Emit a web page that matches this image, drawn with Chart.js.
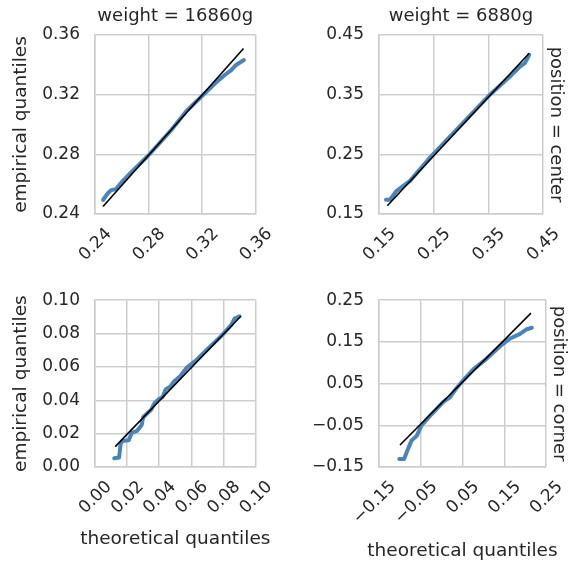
<!DOCTYPE html>
<html>
<head>
<meta charset="utf-8">
<script src="https://cdn.jsdelivr.net/npm/chart.js@4.4.1/dist/chart.umd.min.js"></script>
<style>
html,body{margin:0;padding:0;background:#fff;}
body{width:575px;height:561px;position:relative;overflow:hidden;}
canvas{position:absolute;}
</style>
</head>
<body>
<canvas id="p1" style="left:0;top:0" width="280" height="275"></canvas>
<canvas id="p2" style="left:280px;top:0" width="295" height="275"></canvas>
<canvas id="p3" style="left:0;top:275px" width="280" height="286"></canvas>
<canvas id="p4" style="left:280px;top:275px" width="295" height="286"></canvas>
<script>
// ── DATA ──
// weight = 16860g, position = center
const tlTheo = [0.246, 0.2496, 0.252, 0.2556, 0.2603, 0.2675, 0.2795, 0.2963, 0.3082, 0.3202, 0.3298, 0.337, 0.3418, 0.3454, 0.3513];
const tlEmp  = [0.2494, 0.2539, 0.256, 0.2566, 0.2617, 0.2684, 0.2789, 0.2955, 0.3089, 0.3193, 0.3276, 0.3332, 0.3365, 0.3399, 0.3432];
const tlRefX = [0.246, 0.351];
const tlRefY = [0.245, 0.351];
const tlTicks = [0.24, 0.28, 0.32, 0.36];

// weight = 6880g, position = center
const trTheo = [0.1628, 0.1701, 0.1823, 0.2067, 0.2432, 0.2981, 0.3529, 0.3895, 0.4078, 0.4169, 0.4248];
const trEmp  = [0.1738, 0.1738, 0.1889, 0.2055, 0.2445, 0.2972, 0.35, 0.3805, 0.3972, 0.4028, 0.4167];
const trRefX = [0.1652, 0.4248];
const trRefY = [0.1638, 0.4195];
const trTicks = [0.15, 0.25, 0.35, 0.45];

// weight = 16860g, position = corner
const blTheo = [0.012, 0.015, 0.016, 0.017, 0.021, 0.023, 0.026, 0.029, 0.030, 0.033, 0.035, 0.037, 0.040, 0.042, 0.044, 0.047, 0.049, 0.053, 0.057, 0.063, 0.071, 0.079, 0.085, 0.087, 0.090];
const blEmp  = [0.0052, 0.0057, 0.014, 0.0156, 0.016, 0.0206, 0.0215, 0.025, 0.0298, 0.0326, 0.0344, 0.0382, 0.0409, 0.0418, 0.0465, 0.0483, 0.0511, 0.0544, 0.0594, 0.064, 0.0715, 0.0789, 0.0854, 0.089, 0.0904];
const blRefX = [0.0126, 0.0908];
const blRefY = [0.0122, 0.0904];
const blTicks = [0.00, 0.02, 0.04, 0.06, 0.08, 0.10];

// weight = 6880g, position = corner
const brTheo = [-0.1014, -0.090, -0.0798, -0.0717, -0.0597, -0.0477, -0.0278, 0.004, 0.020, 0.036, 0.052, 0.076, 0.108, 0.140, 0.164, 0.188, 0.204, 0.216];
const brEmp  = [-0.1306, -0.1306, -0.1048, -0.0862, -0.0752, -0.0494, -0.0272, 0.0062, 0.0173, 0.0396, 0.0582, 0.084, 0.11, 0.1396, 0.1582, 0.1693, 0.1804, 0.184];
const brRefX = [-0.0997, 0.214];
const brRefY = [-0.0973, 0.2189];
const brTicks = [-0.15, -0.05, 0.05, 0.15, 0.25];

// ── STYLE ──
const BLUE = '#4a85ba';
const TEXT = '#262626';
const GRID = '#cdcdcd';
const FONT = '"DejaVu Sans", sans-serif';

const pts = (xs, ys) => xs.map((x, i) => ({x, y: ys[i]}));
const fmt = v => v.toFixed(2).replace('-', '\u2212');

// facet + axis titles, drawn without Chart.js' maxWidth squeeze
const facetPlugin = {
  id: 'facet',
  afterDraw(chart, args, opts) {
    const {ctx, chartArea: a} = chart;
    const cx = (a.left + a.right) / 2, cy = (a.top + a.bottom) / 2;
    ctx.save();
    ctx.fillStyle = TEXT;
    ctx.textAlign = 'center';
    ctx.textBaseline = 'middle';
    ctx.font = '18px ' + FONT;
    if (opts.top) ctx.fillText(opts.top, cx, a.top - 19);
    if (opts.right) {
      ctx.save();
      ctx.translate(a.right + 13, cy);
      ctx.rotate(Math.PI / 2);
      ctx.fillText(opts.right, 0, 0);
      ctx.restore();
    }
    ctx.font = '18.5px ' + FONT;
    if (opts.xTitle) ctx.fillText(opts.xTitle, cx, chart.height - opts.xTitleOff);
    if (opts.yTitle) {
      ctx.translate(21, cy);
      ctx.rotate(-Math.PI / 2);
      ctx.fillText(opts.yTitle, 0, 0);
    }
    ctx.restore();
  }
};

function qq(id, o) {
  const axisBase = ticks => ({
    type: 'linear',
    min: ticks[0], max: ticks[ticks.length - 1],
    afterBuildTicks: s => { s.ticks = ticks.map(v => ({value: v})); },
    grid: {color: GRID, lineWidth: 1.5, drawTicks: false},
    border: {color: GRID, width: 1.5},
  });
  return new Chart(document.getElementById(id), {
    type: 'scatter',
    data: {datasets: [
      {data: pts(o.refX, o.refY), showLine: true, borderColor: '#000', borderWidth: 1.6, pointRadius: 0},
      {data: pts(o.theo, o.emp), showLine: true, borderColor: BLUE, borderWidth: 4, pointRadius: 0,
       borderCapStyle: 'round', borderJoinStyle: 'round'}
    ]},
    options: {
      responsive: false, animation: false, events: [],
      layout: {padding: o.pad},
      plugins: {
        legend: {display: false}, tooltip: {enabled: false},
        facet: {top: o.top, right: o.right, xTitle: o.xTitle, xTitleOff: o.xTitleOff, yTitle: o.yTitle}
      },
      scales: {
        x: {...axisBase(o.ticks),
          afterFit: s => { s.height = o.xh; },
          ticks: {color: TEXT, font: {family: FONT, size: 17}, minRotation: 45, maxRotation: 45,
                  autoSkip: false, padding: 10, labelOffset: 14, callback: fmt}
        },
        y: {...axisBase(o.ticks),
          afterFit: s => { s.width = o.yw; },
          ticks: {color: TEXT, font: {family: FONT, size: 17}, padding: 15, callback: fmt}
        }
      }
    },
    plugins: [facetPlugin]
  });
}

qq('p1', {theo: tlTheo, emp: tlEmp, refX: tlRefX, refY: tlRefY, ticks: tlTicks,
  pad: {top: 35, right: 18, left: 0, bottom: 0}, xh: 61, yw: 95,
  top: 'weight = 16860g', yTitle: 'empirical quantiles'});
qq('p2', {theo: trTheo, emp: trEmp, refX: trRefX, refY: trRefY, ticks: trTicks,
  pad: {top: 35, right: 32, left: 0, bottom: 0}, xh: 61, yw: 99,
  top: 'weight = 6880g', right: 'position = center'});
qq('p3', {theo: blTheo, emp: blEmp, refX: blRefX, refY: blRefY, ticks: blTicks,
  pad: {top: 12, right: 18, left: 0, bottom: 0}, xh: 94, yw: 95,
  yTitle: 'empirical quantiles', xTitle: 'theoretical quantiles', xTitleOff: 22});
qq('p4', {theo: brTheo, emp: brEmp, refX: brRefX, refY: brRefY, ticks: brTicks,
  pad: {top: 12, right: 29, left: 0, bottom: 0}, xh: 94, yw: 99,
  right: 'position = corner', xTitle: 'theoretical quantiles', xTitleOff: 10});
</script>
</body>
</html>
